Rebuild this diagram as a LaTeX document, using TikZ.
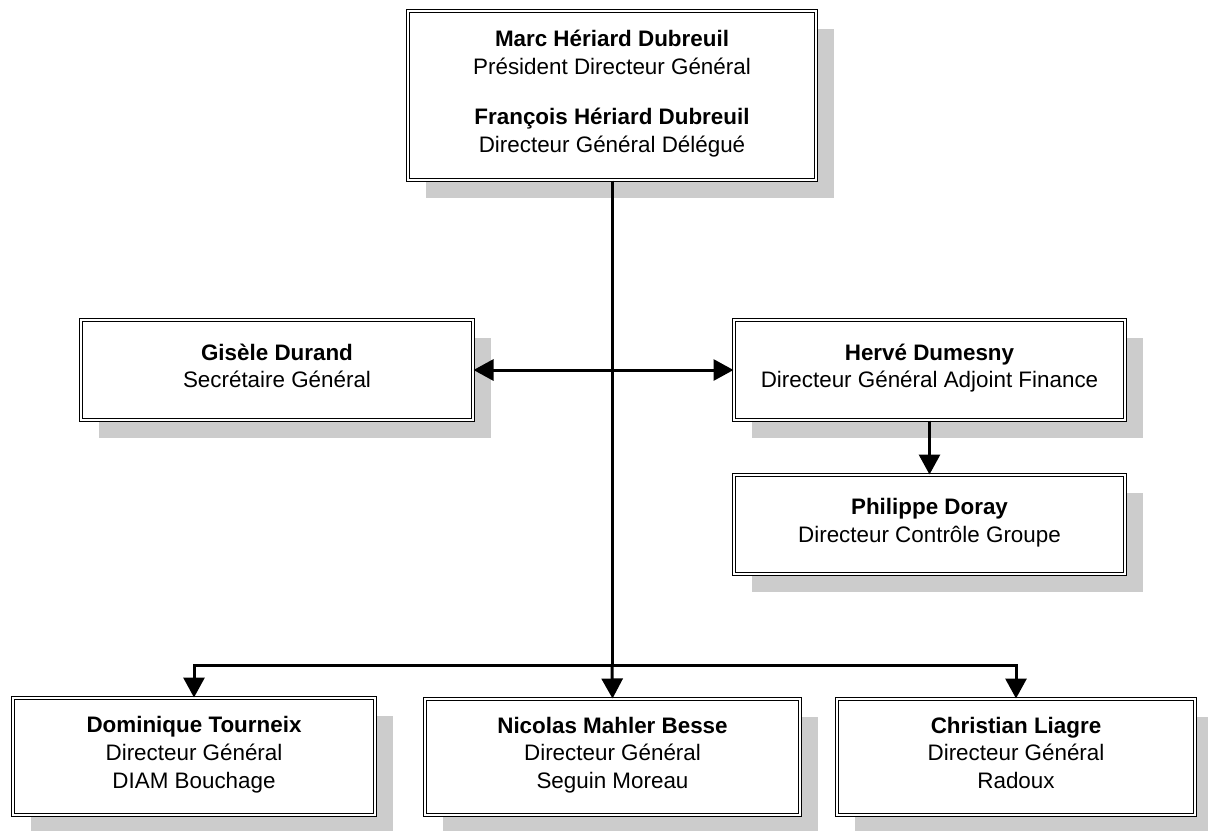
\documentclass[tikz,border=0pt]{standalone}
\usepackage{fontspec}
\setmainfont{Liberation Sans}
\usetikzlibrary{arrows.meta,shadows}

\tikzstyle{poste} = [draw, line width=0.5pt, double, double distance=1.3pt, fill=white, align=center, inner sep=0pt, font=\fontsize{11.2}{13.8}\selectfont, execute at begin node=\strut, execute at end node=\strut, drop shadow={shadow xshift=9pt, shadow yshift=-9pt, fill=black!20, opacity=1}]
\tikzstyle{lien} = [line width=1.5pt, -{Triangle[length=10pt, width=10.5pt]}]

\begin{document}
\begin{tikzpicture}[x=0.5pt, y=-0.5pt]
  \useasboundingbox (0,0) rectangle (1208,830);

  \node (pdg) [poste, minimum width=204pt, minimum height=84.5pt] at (612,95.5)
    {\textbf{Marc Hériard Dubreuil}\\Président Directeur Général\\[11.5pt]
     \textbf{François Hériard Dubreuil}\\Directeur Général Délégué};
  \node (sg) [poste, minimum width=196pt, minimum height=50pt] at (277,370)
    {\textbf{Gisèle Durand}\\Secrétaire Général};
  \node (dgaf) [poste, minimum width=195.5pt, minimum height=50pt] at (929.5,370)
    {\textbf{Hervé Dumesny}\\Directeur Général Adjoint Finance};
  \node (dcg) [poste, minimum width=195.5pt, minimum height=49.5pt] at (929.5,524.5)
    {\textbf{Philippe Doray}\\Directeur Contrôle Groupe};
  \node (diam) [poste, minimum width=181pt, minimum height=58.5pt] at (194,756.5)
    {\textbf{Dominique Tourneix}\\Directeur Général\\DIAM Bouchage};
  \node (seguin) [poste, minimum width=187.5pt, minimum height=58pt] at (612.5,757)
    {\textbf{Nicolas Mahler Besse}\\Directeur Général\\Seguin Moreau};
  \node (radoux) [poste, minimum width=179pt, minimum height=58pt] at (1016,757)
    {\textbf{Christian Liagre}\\Directeur Général\\Radoux};

  \coordinate (jonction) at (612,665);

  \draw[line width=1.5pt] (pdg.south) -- (jonction);
  \draw[lien, {Triangle[length=10pt, width=10.5pt]}-{Triangle[length=10pt, width=10.5pt]}] (sg.east) -- (dgaf.west);
  \draw[lien] (dgaf.south) -- (dcg.north);
  \draw[lien] (jonction) -| (diam.north);
  \draw[lien] (jonction) -- (seguin.north);
  \draw[lien] (jonction) -| (radoux.north);
\end{tikzpicture}
\end{document}
